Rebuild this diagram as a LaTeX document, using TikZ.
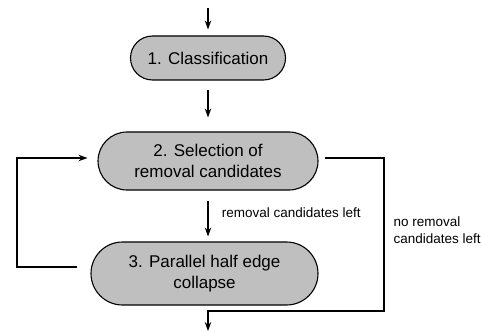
\documentclass[tikz,border=0pt]{standalone}
\usepackage{fontspec}
\setmainfont{Liberation Sans}
\usetikzlibrary{arrows.meta}

\tikzset{
	stepbox/.style={draw, line width=1.1pt, fill=gray!50, align=center, inner sep=0pt, font=\fontsize{17}{20.5}\selectfont},
	flow/.style={line width=1.1pt, -{Stealth[length=9pt, width=6.5pt, inset=3pt]}},
	note/.style={font=\fontsize{13.5}{16.5}\selectfont, align=left}
}

\begin{document}
\begin{tikzpicture}[x=1pt, y=-1pt]
		\useasboundingbox (0, 0) rectangle (481, 331);
	
		\node[stepbox, minimum width=155pt, minimum height=44pt, rounded corners=22pt] (classif) at (208, 58) {1. Classification};
		\node[stepbox, minimum width=220pt, minimum height=58pt, rounded corners=29pt] (select) at (208, 161) {2. Selection of\\removal candidates};
		\node[stepbox, minimum width=227pt, minimum height=63pt, rounded corners=31.5pt] (collapse) at (204.5, 273.5) {3. Parallel half edge\\collapse};
		
		\coordinate (start) at (208, 8);
		\coordinate (loopleft) at (17, 210);
		\coordinate (loopright) at (384, 250);
		\coordinate (exitturn) at (208, 311);
		\coordinate (exit) at (208, 331);
		
		\draw[flow, shorten >=6pt] (start) -- (classif);
		\draw[flow, shorten <=9pt, shorten >=14pt] (classif) -- (select);
		\draw[flow, shorten <=10pt, shorten >=5pt] (select.south) -- (select.south |- collapse.north)
			node[note, midway, anchor=west, xshift=10pt, yshift=3pt] (leftlabel) {removal candidates left};
		
		\draw[flow] ([xshift=-13pt, yshift=6.5pt]collapse.west) -| (loopleft) |- ([xshift=-10pt, yshift=3pt]select.west);
		\draw[flow] ([xshift=6pt, yshift=3pt]select.east) -| (loopright) |- (exitturn) -- (exit);
		
		\node[note, anchor=west] (nolabel) at (390, 230) {no removal\\candidates left};
	\end{tikzpicture}
\end{document}
